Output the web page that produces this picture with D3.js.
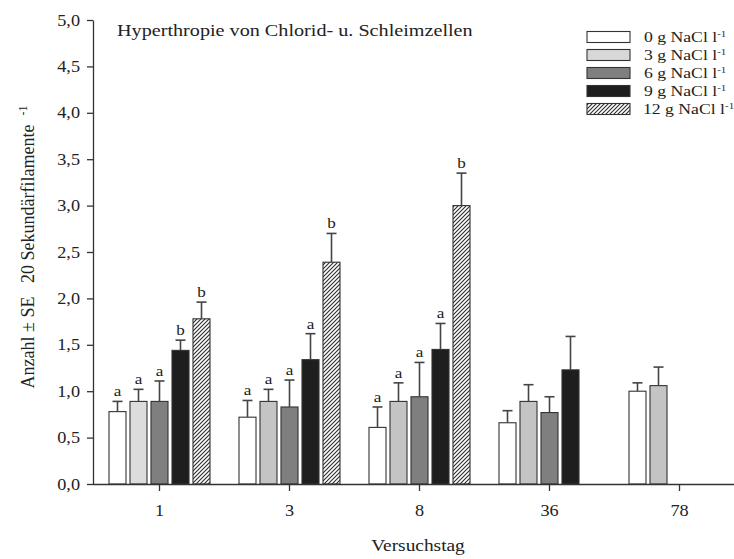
<!DOCTYPE html>
<html>
<head>
<meta charset="utf-8">
<script src="https://cdn.jsdelivr.net/npm/d3@7"></script>
<style>
  body { margin: 0; background: #fff; }
  svg { display: block; }
  text { font-family: "Liberation Serif", "Times New Roman", serif; fill: #222; }
</style>
</head>
<body>
<svg id="chart" width="734" height="559"></svg>
<script>
// Test days (x categories)
const days = ["1", "3", "8", "36", "78"];

// Salinity treatments (series)
const treatments = ["0", "3", "6", "9", "12"];

// Mean counts per 20 secondary filaments, one array per treatment (null = not sampled)
const mean0  = [0.78, 0.72, 0.61, 0.66, 1.00];
const mean3  = [0.89, 0.89, 0.89, 0.89, 1.06];
const mean6  = [0.89, 0.83, 0.94, 0.77, null];
const mean9  = [1.44, 1.34, 1.45, 1.23, null];
const mean12 = [1.78, 2.39, 3.00, null, null];

// Standard errors
const se0  = [0.11, 0.18, 0.22, 0.13, 0.09];
const se3  = [0.13, 0.13, 0.20, 0.18, 0.20];
const se6  = [0.22, 0.29, 0.37, 0.17, null];
const se9  = [0.11, 0.28, 0.28, 0.36, null];
const se12 = [0.18, 0.31, 0.35, null, null];

// Significance letters
const sig0  = ["a", "a", "a", "", ""];
const sig3  = ["a", "a", "a", "", ""];
const sig6  = ["a", "a", "a", "", ""];
const sig9  = ["b", "a", "a", "", ""];
const sig12 = ["b", "b", "b", "", ""];

// Y axis tick values
const yTicks = [0, 0.5, 1, 1.5, 2, 2.5, 3, 3.5, 4, 4.5, 5];

const means = [mean0, mean3, mean6, mean9, mean12];
const ses = [se0, se3, se6, se9, se12];
const sigs = [sig0, sig3, sig6, sig9, sig12];

// fills per treatment; the 3 g bars of day 1 are a paler grey
const fills = ["#ffffff", "#c4c4c4", "#7f7f7f", "#1e1e1e", "url(#hatch)"];
const legendFills = ["#ffffff", "#d8d8d8", "#7f7f7f", "#1e1e1e", "url(#hatch)"];
const fillFor = (j, day) => (j === 1 && day === "1") ? "#dcdcdc" : fills[j];

const SX = 1.14; // horizontal text stretch

d3.formatDefaultLocale({ decimal: ",", thousands: ".", grouping: [3], currency: ["", " €"] });

const svg = d3.select("#chart");

// diagonal hatch
const defs = svg.append("defs");
const pat = defs.append("pattern")
  .attr("id", "hatch")
  .attr("patternUnits", "userSpaceOnUse")
  .attr("width", 4).attr("height", 4);
pat.append("rect").attr("width", 4).attr("height", 4).attr("fill", "#fff");
pat.append("path")
  .attr("d", "M-1,1 l2,-2 M0,4 l4,-4 M3,5 l2,-2")
  .attr("stroke", "#2a2a2a").attr("stroke-width", 1.1);

const x0 = d3.scaleBand().domain(days).range([94.5, 744.5]).paddingInner(0.223).paddingOuter(0.1115);
const x1 = d3.scaleBand().domain(treatments).range([0, x0.bandwidth()]).paddingInner(0.19).paddingOuter(0);
const y = d3.scaleLinear().domain([0, 5]).range([484, 20]);

const rows = [];
days.forEach((d, i) => {
  treatments.forEach((t, j) => {
    if (means[j][i] != null) rows.push({ day: d, t, j, v: means[j][i], se: ses[j][i], sig: sigs[j][i] });
  });
});

// bars
svg.append("g").selectAll("rect").data(rows).join("rect")
  .attr("x", r => x0(r.day) + x1(r.t))
  .attr("y", r => y(r.v))
  .attr("width", x1.bandwidth())
  .attr("height", r => y(0) - y(r.v))
  .attr("fill", r => fillFor(r.j, r.day))
  .attr("stroke", "#333").attr("stroke-width", 1.1);

// error bars (upper)
const eb = svg.append("g").attr("stroke", "#444").attr("stroke-width", 1.6);
rows.forEach(r => {
  const cx = x0(r.day) + x1(r.t) + x1.bandwidth() / 2;
  eb.append("line").attr("x1", cx).attr("x2", cx).attr("y1", y(r.v)).attr("y2", y(r.v + r.se));
  eb.append("line").attr("x1", cx - 5).attr("x2", cx + 5).attr("y1", y(r.v + r.se)).attr("y2", y(r.v + r.se));
});

// significance letters
svg.append("g").selectAll("text").data(rows.filter(r => r.sig)).join("text")
  .attr("transform", r => `translate(${x0(r.day) + x1(r.t) + x1.bandwidth() / 2},${y(r.v + r.se) - 5}) scale(${SX},1)`)
  .attr("text-anchor", "middle")
  .attr("font-size", 15)
  .text(r => r.sig);

// axes
const yAxis = svg.append("g").attr("transform", "translate(93,0)")
  .call(d3.axisLeft(y).tickValues(yTicks).tickFormat(d3.format(".1f")).tickSize(6).tickPadding(7).tickSizeOuter(0));
yAxis.selectAll("text").attr("font-size", 16).attr("font-family", null)
  .attr("transform", `scale(${SX},1)`).attr("x", -13 / SX);
yAxis.selectAll("line, path").attr("stroke", "#333").attr("stroke-width", 1.3);

const xAxis = svg.append("g").attr("transform", "translate(0,484)")
  .call(d3.axisBottom(x0).tickSize(7).tickPadding(14).tickSizeOuter(0));
xAxis.select(".domain").attr("d", "M93,0.5H734");
xAxis.selectAll("text").attr("font-size", 16).attr("font-family", null)
  .attr("transform", `scale(${SX},1)`);
xAxis.selectAll("line, path").attr("stroke", "#333").attr("stroke-width", 1.3);

// title
svg.append("text")
  .attr("transform", `translate(117,36) scale(${SX},1)`)
  .attr("font-size", 17.7)
  .text("Hyperthropie von Chlorid- u. Schleimzellen");

// x axis title
svg.append("text")
  .attr("transform", `translate(418,551) scale(${SX},1)`)
  .attr("text-anchor", "middle")
  .attr("font-size", 17)
  .text("Versuchstag");

// y axis title
const yl = svg.append("text")
  .attr("transform", "translate(33.5,247) rotate(-90)")
  .attr("text-anchor", "middle")
  .attr("font-size", 18)
  .style("white-space", "pre");
yl.append("tspan").text("Anzahl ± SE   20 Sekundärfilamente  ");
yl.append("tspan").attr("baseline-shift", "super").attr("font-size", 12).text("-1");

// legend
const LSX = 1.22;
const lg = svg.append("g");
treatments.forEach((t, j) => {
  const cy = 37 + j * 18;
  lg.append("rect").attr("x", 587).attr("y", cy - 5.5).attr("width", 43).attr("height", 11)
    .attr("fill", legendFills[j]).attr("stroke", "#333").attr("stroke-width", 1.1);
  const tx = lg.append("text")
    .attr("transform", `translate(${t.length > 1 ? 643 : 644},${cy + 5}) scale(${LSX},1)`)
    .attr("font-size", 14.5);
  tx.append("tspan").text(`${t} g NaCl l`);
  tx.append("tspan").attr("dy", -5).attr("font-size", 9).text("-1");
});
</script>
</body>
</html>
